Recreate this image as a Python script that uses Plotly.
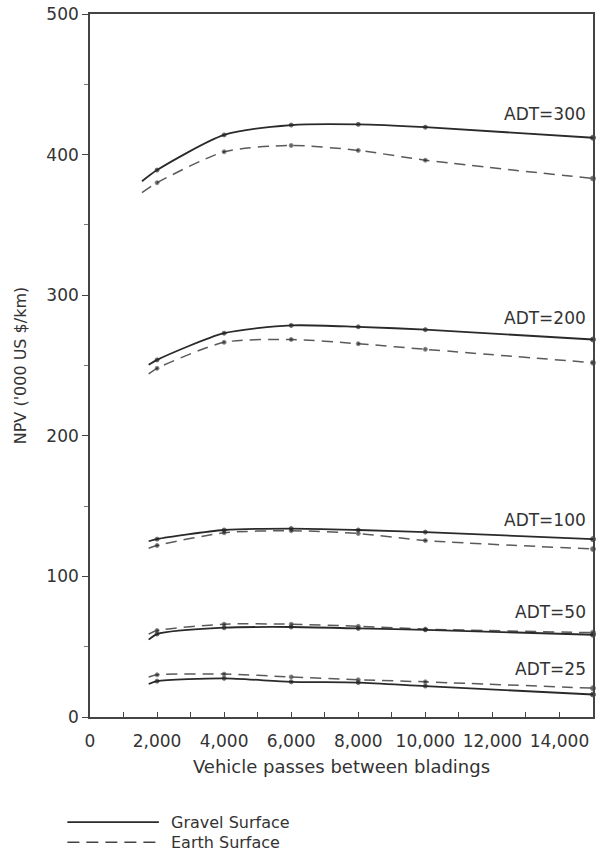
import plotly.graph_objects as go

# X positions (vehicle passes between bladings); first point is the curve start (no marker)
x_300 = [1550, 2000, 4000, 6000, 8000, 10000, 15000]
x_200 = [1750, 2000, 4000, 6000, 8000, 10000, 15000]
x_low = [1750, 2000, 4000, 6000, 8000, 10000, 15000]

gravel_300 = [381, 389, 414, 421, 421.5, 419.5, 412]
earth_300 = [373, 380, 402, 406.5, 403, 396, 383]
gravel_200 = [250.5, 254, 273, 278.5, 277.5, 275.5, 268.5]
earth_200 = [244, 248, 266.5, 268.5, 265.5, 261.5, 252]
gravel_100 = [125, 126.5, 133, 134, 133, 131.5, 126.5]
earth_100 = [120, 122, 131, 132.5, 130.5, 125.5, 119.5]
gravel_50 = [55, 59, 63.5, 64, 63, 62, 58.5]
earth_50 = [59, 61.5, 66, 66, 64.5, 62.5, 60]
gravel_25 = [23.5, 25.5, 27.5, 25, 24.5, 22, 16]
earth_25 = [28.5, 30, 30.5, 28.5, 26.5, 25, 20.5]

adt_labels = ["ADT=300", "ADT=200", "ADT=100", "ADT=50", "ADT=25"]
adt_label_y = [429, 283.5, 140, 75, 34]

x_tickvals = [0, 2000, 4000, 6000, 8000, 10000, 12000, 14000]
x_ticktext = ["0", "2,000", "4,000", "6,000", "8,000", "10,000", "12,000", "14,000"]

FONT = "DejaVu Sans"
INK = "#333333"

series = [
    (x_300, gravel_300, earth_300),
    (x_200, gravel_200, earth_200),
    (x_low, gravel_100, earth_100),
    (x_low, gravel_50, earth_50),
    (x_low, gravel_25, earth_25),
]

fig = go.Figure()
msizes = [0, 4, 4, 4, 4, 4, 5]
for xs, g, e in series:
    fig.add_trace(go.Scatter(
        x=xs, y=e, mode="lines+markers",
        line=dict(color="#5a5a5a", width=1.5, dash="11px,7px", shape="spline", smoothing=0.7),
        marker=dict(size=msizes, color="#222222"),
        showlegend=False, hoverinfo="skip", cliponaxis=False))
    fig.add_trace(go.Scatter(
        x=xs, y=g, mode="lines+markers",
        line=dict(color="#2a2a2a", width=1.8, shape="spline", smoothing=0.7),
        marker=dict(size=msizes, color="#222222"),
        showlegend=False, hoverinfo="skip", cliponaxis=False))

for lab, ly in zip(adt_labels, adt_label_y):
    fig.add_annotation(x=14850, y=ly, xref="x", yref="y", text=lab,
                       showarrow=False, xanchor="right", yanchor="middle",
                       font=dict(family=FONT, size=17, color=INK))

# Legend drawn at bottom-left
fig.add_shape(type="line", xref="paper", yref="paper", x0=-0.045, x1=0.137,
              y0=-0.1494, y1=-0.1494, line=dict(color="#2a2a2a", width=1.8))
fig.add_shape(type="line", xref="paper", yref="paper", x0=-0.045, x1=0.137,
              y0=-0.178, y1=-0.178, line=dict(color="#444444", width=1.5, dash="12px,7px"))
fig.add_annotation(x=0.158, y=-0.1494, xref="paper", yref="paper", text="Gravel Surface",
                   showarrow=False, xanchor="left", yanchor="middle",
                   font=dict(family=FONT, size=16, color=INK))
fig.add_annotation(x=0.158, y=-0.178, xref="paper", yref="paper", text="Earth Surface",
                   showarrow=False, xanchor="left", yanchor="middle",
                   font=dict(family=FONT, size=16, color=INK))

fig.update_xaxes(
    range=[0, 15000], tickvals=x_tickvals, ticktext=x_ticktext,
    ticks="inside", ticklen=5, tickwidth=1.3, tickcolor="#444",
    minor=dict(dtick=1000, tick0=0, ticks="inside", ticklen=5, tickwidth=1.3, tickcolor="#444"),
    showgrid=False, zeroline=False,
    showline=True, linecolor="#444", linewidth=1.6, mirror=True,
    tickfont=dict(family=FONT, size=17, color=INK),
    ticklabelstandoff=8,
    title=dict(text="Vehicle passes between bladings", font=dict(family=FONT, size=18, color=INK),
               standoff=10),
)
fig.update_yaxes(
    range=[0, 500], dtick=100, tick0=0,
    ticks="outside", ticklen=6, tickwidth=1.3, tickcolor="#444",
    minor=dict(dtick=50, ticks="outside", ticklen=4, tickwidth=1, tickcolor="#777"),
    showgrid=False, zeroline=False,
    showline=True, linecolor="#444", linewidth=1.6, mirror=True,
    tickfont=dict(family=FONT, size=17, color=INK),
    title=dict(text="NPV ('000 US $/km)", font=dict(family=FONT, size=16, color=INK),
               standoff=16),
)

fig.update_layout(
    width=597, height=851,
    margin=dict(l=90, r=2, t=14, b=134),
    plot_bgcolor="white", paper_bgcolor="white",
    showlegend=False,
)

fig.write_html("out.html", config={"displayModeBar": False},
               post_script="document.body.style.margin='0';document.body.style.overflow='hidden';")
